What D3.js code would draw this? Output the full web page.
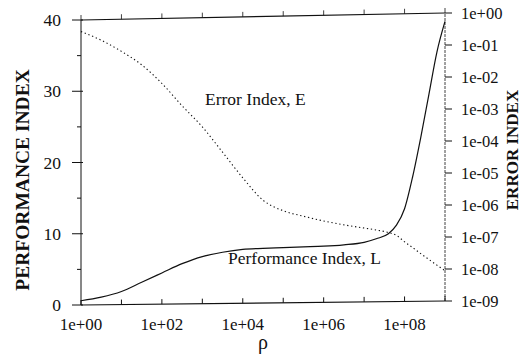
<!DOCTYPE html>
<html><head><meta charset="utf-8">
<script src="https://cdn.jsdelivr.net/npm/d3@7/dist/d3.min.js"></script>
<style>
body{margin:0;background:#fff}
svg{display:block}
text{font-family:"Liberation Serif","Times New Roman",serif;fill:#111}
</style></head><body>
<svg id="c" width="528" height="356"></svg>
<script>
// data (rho = 10^exponent)
const rhoExp = [0,0.5,1,1.5,2,2.5,3,3.5,4,4.5,5,5.5,6,6.5,7,7.3,7.6,7.8,8,8.2,8.4,8.6,8.8,9];
const perfL  = [0.6,1.1,1.9,3.2,4.5,5.8,6.8,7.4,7.8,7.95,8.05,8.15,8.25,8.45,8.8,9.3,10.0,11.2,13.5,18,23.5,29.5,35.5,39.8];
const errExp = [-0.58,-0.85,-1.2,-1.62,-2.2,-2.9,-3.56,-4.35,-5.15,-5.85,-6.18,-6.35,-6.5,-6.62,-6.72,-6.78,-6.86,-6.95,-7.15,-7.33,-7.52,-7.7,-7.88,-8.05];
const xTickExp = [0,1,2,3,4,5,6,7,8,9];
const xLabelExp = [0,2,4,6,8];
const leftTicks = [0,10,20,30,40];
const leftMinor = [5,15,25,35];
const rightTickExp = [0,-1,-2,-3,-4,-5,-6,-7,-8,-9];

const svg = d3.select("#c");
const x = d3.scaleLog().domain([1,1e9]).range([81,445]);
const yL = d3.scaleLinear().domain([0,40]).range([305,20]);
const yR = d3.scaleLog().domain([1e-9,1]).range([301,13]);
const fmtExp = e => "1e" + (e<0?"-":"+") + String(Math.abs(e)).padStart(2,"0");

const g = svg.append("g").attr("stroke","#111").attr("fill","none");
// frame
g.append("line").attr("x1",x(1)).attr("y1",yL(0)).attr("x2",x(1)).attr("y2",yL(40)).attr("stroke-width",1);
g.append("line").attr("x1",x(1e9)).attr("y1",yR(1e-9)).attr("x2",x(1e9)).attr("y2",yR(1)).attr("stroke-width",0.8).attr("stroke-dasharray","3,1");
g.append("line").attr("x1",x(1)).attr("y1",yL(40)).attr("x2",x(1e9)).attr("y2",yR(1)).attr("stroke-width",1.2);
g.append("line").attr("x1",x(1)).attr("y1",yL(0)).attr("x2",x(1e9)).attr("y2",yR(1e-9)).attr("stroke-width",1.2);

// interpolated y along top/bottom edges
const topY = px => yL(40) + (yR(1)-yL(40))*(px-x(1))/(x(1e9)-x(1));
const botY = px => yL(0) + (yR(1e-9)-yL(0))*(px-x(1))/(x(1e9)-x(1));

// x ticks
xTickExp.forEach(e=>{
  const px = x(Math.pow(10,e));
  g.append("line").attr("x1",px).attr("x2",px).attr("y1",botY(px)).attr("y2",botY(px)-5).attr("stroke-width",1);
  g.append("line").attr("x1",px).attr("x2",px).attr("y1",topY(px)).attr("y2",topY(px)-5).attr("stroke-width",0.8);
});
svg.selectAll("text.xl").data(xLabelExp).join("text").attr("class","xl")
  .attr("x",e=>x(Math.pow(10,e))).attr("y",330).attr("text-anchor","middle")
  .attr("font-size",17).text(fmtExp);
svg.append("text").attr("x",263).attr("y",349).attr("text-anchor","middle").attr("font-size",20)
  .attr("font-family","DejaVu Sans").text("ρ");

// left ticks
leftTicks.forEach(v=>{
  g.append("line").attr("x1",x(1)-9).attr("x2",x(1)+2).attr("y1",yL(v)).attr("y2",yL(v)).attr("stroke-width",1);
});
leftMinor.forEach(v=>{
  g.append("line").attr("x1",x(1)-4).attr("x2",x(1)).attr("y1",yL(v)).attr("y2",yL(v)).attr("stroke-width",1);
});
svg.selectAll("text.yl").data(leftTicks).join("text").attr("class","yl")
  .attr("x",61).attr("y",v=>yL(v)+6).attr("text-anchor","end").attr("font-size",17.5).text(d=>d);

// right ticks
rightTickExp.forEach(e=>{
  g.append("line").attr("x1",x(1e9)).attr("x2",x(1e9)+7).attr("y1",yR(Math.pow(10,e))).attr("y2",yR(Math.pow(10,e))).attr("stroke-width",1);
});
svg.selectAll("text.yr").data(rightTickExp).join("text").attr("class","yr")
  .attr("x",461).attr("y",e=>yR(Math.pow(10,e))+6).attr("font-size",16.5).text(fmtExp);

// axis titles
svg.append("text").attr("transform","translate(29,180) rotate(-90)").attr("text-anchor","middle")
  .attr("font-size",19.5).attr("font-weight","bold").text("PERFORMANCE INDEX");
svg.append("text").attr("transform","translate(518,150) rotate(-90)").attr("text-anchor","middle")
  .attr("font-size",17).attr("font-weight","bold").text("ERROR INDEX");

// curves
const lineL = d3.line().x((d,i)=>x(Math.pow(10,rhoExp[i]))).y(d=>yL(d)).curve(d3.curveMonotoneX);
svg.append("path").attr("d",lineL(perfL)).attr("fill","none").attr("stroke","#111").attr("stroke-width",1.2);
const lineE = d3.line().x((d,i)=>x(Math.pow(10,rhoExp[i]))).y(d=>yR(Math.pow(10,d))).curve(d3.curveMonotoneX);
svg.append("path").attr("d",lineE(errExp)).attr("fill","none").attr("stroke","#111").attr("stroke-width",1.1).attr("stroke-dasharray","1.3,2.7");

// annotations
svg.append("text").attr("x",205).attr("y",105).attr("font-size",17.5).text("Error Index, E");
svg.append("text").attr("x",228).attr("y",264).attr("font-size",17.5).text("Performance Index, L");
</script>
</body></html>
